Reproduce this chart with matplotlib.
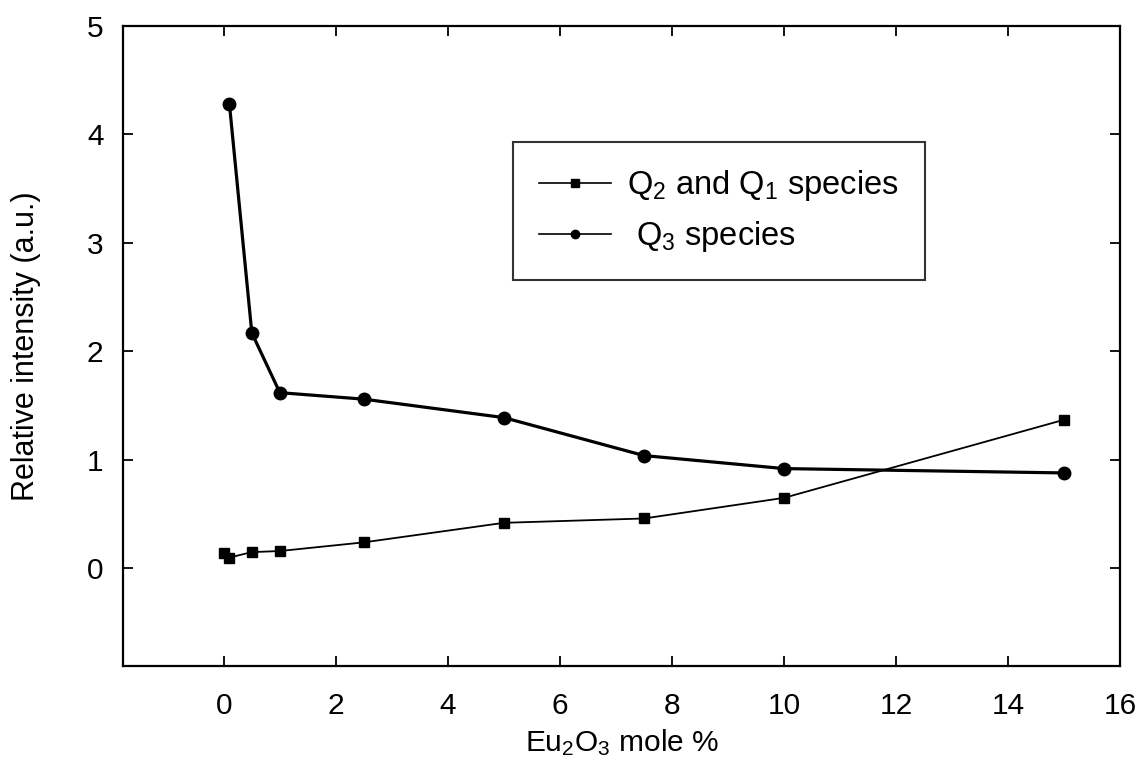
import matplotlib
matplotlib.use("Agg")
import matplotlib.pyplot as plt
from matplotlib.lines import Line2D

plt.rcParams['font.family'] = ['Liberation Sans', 'DejaVu Sans']
plt.rcParams['mathtext.fontset'] = 'custom'
plt.rcParams['mathtext.rm'] = 'Liberation Sans'
plt.rcParams['mathtext.it'] = 'Liberation Sans'
plt.rcParams['mathtext.default'] = 'regular'

# Data
x_q21 = [0, 0.1, 0.5, 1, 2.5, 5, 7.5, 10, 15]
y_q21 = [0.14, 0.10, 0.15, 0.16, 0.24, 0.42, 0.46, 0.65, 1.37]
x_q3 = [0.1, 0.5, 1, 2.5, 5, 7.5, 10, 15]
y_q3 = [4.28, 2.17, 1.62, 1.56, 1.39, 1.04, 0.92, 0.88]
x_ticks = [0, 2, 4, 6, 8, 10, 12, 14, 16]
y_ticks = [0, 1, 2, 3, 4, 5]

fig = plt.figure(figsize=(11.4, 7.65), dpi=100)
ax = fig.add_axes([0.1079, 0.1294, 0.8746, 0.8366])

ax.plot(x_q21, y_q21, color='black', lw=1.3, marker='s', ms=7.5)
ax.plot(x_q3, y_q3, color='black', lw=2.3, marker='o', ms=9)

ax.set_xlim(-1.8, 16)
ax.set_ylim(-0.9, 5)
ax.set_xticks(x_ticks)
ax.set_yticks(y_ticks)
ax.tick_params(direction='in', length=7, width=1.3, top=True, right=True,
               labelsize=21.5)
ax.tick_params(axis='x', pad=19)
ax.tick_params(axis='y', pad=14)
for s in ax.spines.values():
    s.set_linewidth(1.6)

ax.set_xlabel('Eu$_2$O$_3$ mole %', fontsize=21.5, labelpad=5)
ax.set_ylabel('Relative intensity (a.u.)', fontsize=22, labelpad=33)

handles = [Line2D([], [], color='black', lw=1.2, marker='s', ms=6),
           Line2D([], [], color='black', lw=1.2, marker='o', ms=6)]
labels = ['Q$_2$ and Q$_1$ species', ' Q$_3$ species']
leg = ax.legend(handles, labels, loc='upper left', bbox_to_anchor=(0.391, 0.819),
                fontsize=23.5, frameon=True, fancybox=False, edgecolor='black',
                handlelength=2.2, handletextpad=0.5, borderpad=0.8,
                labelspacing=0.5, borderaxespad=0)
leg.get_frame().set_linewidth(1.5)

fig.savefig('out.png', dpi=100)
